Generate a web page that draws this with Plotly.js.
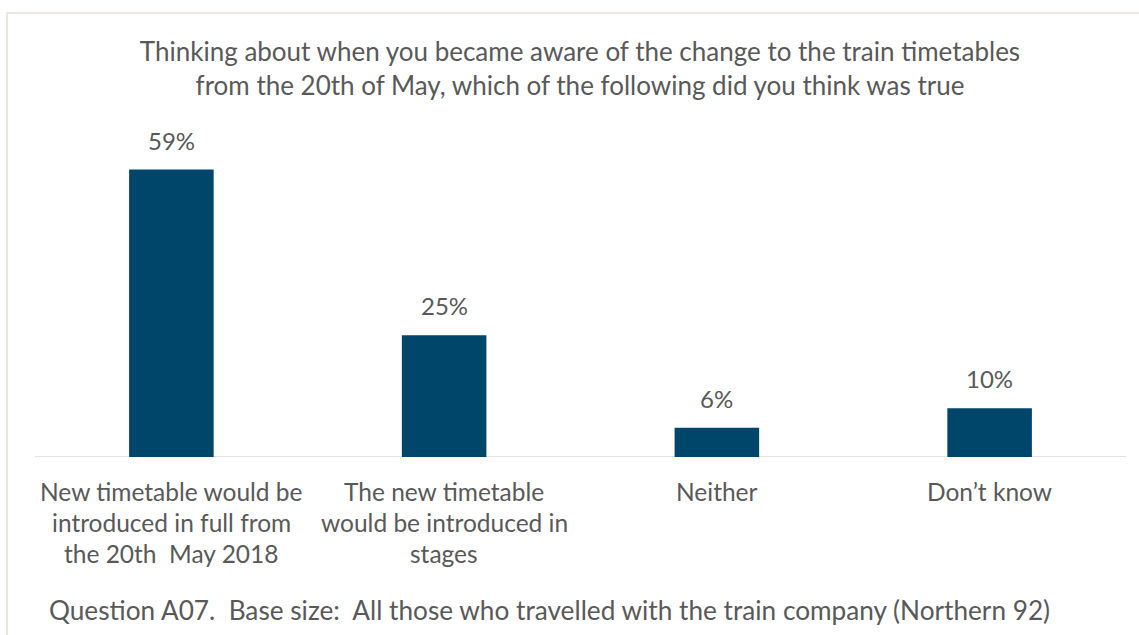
<!DOCTYPE html>
<html>
<head>
<meta charset="utf-8">
<script src="https://cdn.plot.ly/plotly-3.0.1.min.js"></script>
<style>html,body{margin:0;padding:0;background:#fff;}#chart{width:1139px;height:635px;}</style>
</head>
<body>
<div id="chart"></div>
<script>
const categories = [
  "New timetable would be<br>introduced in full from<br>the 20th  May 2018",
  "The new timetable<br>would be introduced in<br>stages",
  "Neither",
  "Don\u2019t know"
];
const values = [59, 25, 6, 10];
const valueLabels = ["59%", "25%", "6%", "10%"];
const titleText = "Thinking about when you became aware of the change to the train timetables<br>from the 20th of May, which of the following did you think was true";
const footnote = "Question A07.  Base size:  All those who travelled with the train company (Northern 92)";

const FONT = "Lato, 'Open Sans', sans-serif";
const TXT = "#595959";

const W = 1139, H = 635;
const margin = {l: 35, r: 13, t: 116, b: 178};
const pw = W - margin.l - margin.r, ph = H - margin.t - margin.b;
const px = x => (x - margin.l) / pw;
const py = y => (H - margin.b - y) / ph;

const annotations = [];
values.forEach((v, i) => {
  annotations.push({
    x: categories[i], y: v, xref: "x", yref: "y",
    text: valueLabels[i], showarrow: false, yanchor: "bottom", yshift: 13,
    font: {family: FONT, size: 24, color: TXT}
  });
});
categories.forEach((c, i) => {
  c.split("<br>").forEach((line, j) => {
    annotations.push({
      x: c, xref: "x", y: 0, yref: "y", yanchor: "middle",
      yshift: -34 - 31 * j, text: line, showarrow: false,
      font: {family: FONT, size: 24.5, color: TXT}
    });
  });
});
annotations.push({
  x: px(549), xref: "paper", xanchor: "center", y: py(610), yref: "paper", yanchor: "middle",
  text: footnote, showarrow: false,
  font: {family: FONT, size: 26.2, color: TXT}
});

const data = [{
  type: "bar",
  x: categories,
  y: values,
  marker: {color: "#00466b"},
  hoverinfo: "none"
}];

const layout = {
  width: W, height: H,
  margin: margin,
  paper_bgcolor: "#fff", plot_bgcolor: "#fff",
  showlegend: false,
  bargap: 0.69,
  title: {
    text: titleText, x: px(580), xref: "paper", xanchor: "center",
    y: 1 - 61 / H, yanchor: "middle",
    font: {family: FONT, size: 26, color: TXT}
  },
  xaxis: {
    showticklabels: false, showgrid: false, zeroline: false,
    showline: false, ticks: "", fixedrange: true
  },
  yaxis: {
    range: [0, 70], visible: false, showgrid: false, zeroline: false, fixedrange: true
  },
  annotations: annotations,
  shapes: [
    {
      type: "rect", xref: "paper", yref: "paper", layer: "below",
      x0: px(7), x1: px(1145), y0: py(650), y1: py(13),
      line: {color: "#ece7dc", width: 2}, fillcolor: "rgba(0,0,0,0)"
    },
    {
      type: "line", xref: "paper", yref: "y", layer: "below",
      x0: 0, x1: 1, y0: 0, y1: 0,
      line: {color: "#d9d9d9", width: 1.5}
    }
  ]
};

Plotly.newPlot("chart", data, layout, {displayModeBar: false, staticPlot: true});
</script>
</body>
</html>
